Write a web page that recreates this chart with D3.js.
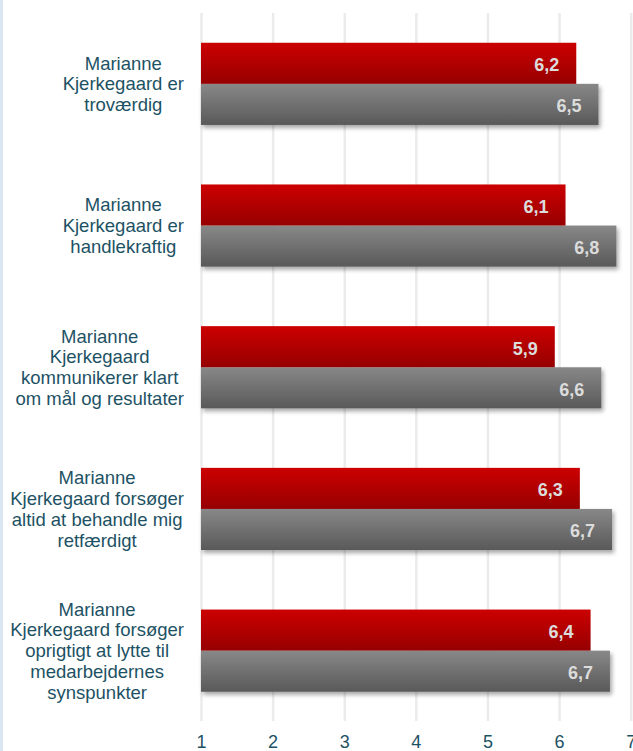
<!DOCTYPE html>
<html lang="da">
<head>
    <meta charset="UTF-8">
    <title>Marianne Kjerkegaard</title>
    <script src="https://cdn.jsdelivr.net/npm/d3@7"></script>
    <style>
        body { margin: 0; background: #fff; }
        svg { display: block; font-family: Arial, "Liberation Sans", sans-serif; }
    </style>
</head>
<body>
<svg width="633" height="751" id="svgcontainer"></svg>
<script>
    // categories (line breaks as in the picture)
    const categories = [
        ['Marianne', 'Kjerkegaard er', 'troværdig'],
        ['Marianne', 'Kjerkegaard er', 'handlekraftig'],
        ['Marianne', 'Kjerkegaard', 'kommunikerer klart', 'om mål og resultater'],
        ['Marianne', 'Kjerkegaard forsøger', 'altid at behandle mig', 'retfærdigt'],
        ['Marianne', 'Kjerkegaard forsøger', 'oprigtigt at lytte til', 'medarbejdernes', 'synspunkter']
    ];
    const redValues = [6.24, 6.09, 5.94, 6.29, 6.44];
    const grayValues = [6.55, 6.80, 6.59, 6.74, 6.71];
    const ticks = [1, 2, 3, 4, 5, 6, 7];

    const svg = d3.select('#svgcontainer');
    const textColor = '#1d5264';

    const data = categories.map((c, i) => ({id: i, lines: c, red: redValues[i], gray: grayValues[i]}));

    const xScale = d3.scaleLinear().domain([1, 7]).range([201, 630.7]);
    const yScale = d3.scaleBand().domain(data.map(d => d.id)).range([13, 721.5])
        .paddingInner(0.42).paddingOuter(0.21);
    const half = yScale.bandwidth() / 2;

    const defs = svg.append('defs');
    const mkGrad = (id, top, bottom) => {
        const g = defs.append('linearGradient').attr('id', id).attr('x1', 0).attr('y1', 0).attr('x2', 0).attr('y2', 1);
        g.append('stop').attr('offset', '0%').attr('stop-color', top);
        g.append('stop').attr('offset', '100%').attr('stop-color', bottom);
    };
    mkGrad('redGrad', '#cc0000', '#960000');
    mkGrad('grayGrad', '#888888', '#595959');
    defs.append('filter').attr('id', 'shadow').attr('x', '-5%').attr('y', '-20%').attr('width', '115%').attr('height', '160%')
        .append('feDropShadow').attr('dx', 2).attr('dy', 3).attr('stdDeviation', 2)
        .attr('flood-color', '#000').attr('flood-opacity', 0.35);

    // left light-blue strip
    svg.append('rect').attr('x', 0).attr('y', 0).attr('width', 3).attr('height', 751).attr('fill', '#dae6f1');

    // grid + tick labels
    const xAxis = d3.axisBottom(xScale).tickValues(ticks).tickSize(-(721 - 13)).tickPadding(14).tickFormat(d3.format('d'));
    const ax = svg.append('g').attr('transform', 'translate(0,721)').call(xAxis);
    ax.select('.domain').remove();
    ax.selectAll('.tick line').attr('stroke', '#ebebeb').attr('stroke-width', 2.5);
    ax.selectAll('.tick text').attr('fill', textColor).attr('font-size', '18px').attr('font-family', 'Arial, "Liberation Sans", sans-serif');

    const groups = svg.selectAll('.grp').data(data).join('g').attr('class', 'grp');

    // gray bars first so red bar shadow does not overlap
    groups.append('rect')
        .attr('x', xScale(1)).attr('y', d => yScale(d.id) + half)
        .attr('width', d => xScale(d.gray) - xScale(1)).attr('height', half)
        .attr('fill', 'url(#grayGrad)').attr('filter', 'url(#shadow)');
    groups.append('rect')
        .attr('x', xScale(1)).attr('y', d => yScale(d.id))
        .attr('width', d => xScale(d.red) - xScale(1)).attr('height', half)
        .attr('fill', 'url(#redGrad)');

    const fmt = v => d3.format('.1f')(v).replace('.', ',');
    groups.append('text').text(d => fmt(d.red))
        .attr('x', d => xScale(d.red) - 17).attr('y', d => yScale(d.id) + half / 2 + 8)
        .attr('text-anchor', 'end').attr('font-size', '18px').attr('font-weight', 'bold').attr('fill', '#dcdcdc');
    groups.append('text').text(d => fmt(d.gray))
        .attr('x', d => xScale(d.gray) - 17).attr('y', d => yScale(d.id) + half * 1.5 + 8)
        .attr('text-anchor', 'end').attr('font-size', '18px').attr('font-weight', 'bold').attr('fill', '#dcdcdc');

    // category labels: block right-aligned at 184, lines centred in the block
    const lineH = 20.8;
    const labelRight = 184;
    groups.each(function (d) {
        const g = d3.select(this);
        const cy = yScale(d.id) + half;
        const t = g.append('text').attr('fill', textColor).attr('font-size', '18.5px').attr('text-anchor', 'middle');
        const spans = t.selectAll('tspan').data(d.lines).join('tspan').text(l => l);
        let maxW = 0;
        spans.each(function () { maxW = Math.max(maxW, this.getComputedTextLength()); });
        const cx = labelRight - maxW / 2;
        const n = d.lines.length;
        spans.attr('x', cx).attr('y', (l, i) => cy + (i - (n - 1) / 2) * lineH + 6.5);
    });
</script>
</body>
</html>
